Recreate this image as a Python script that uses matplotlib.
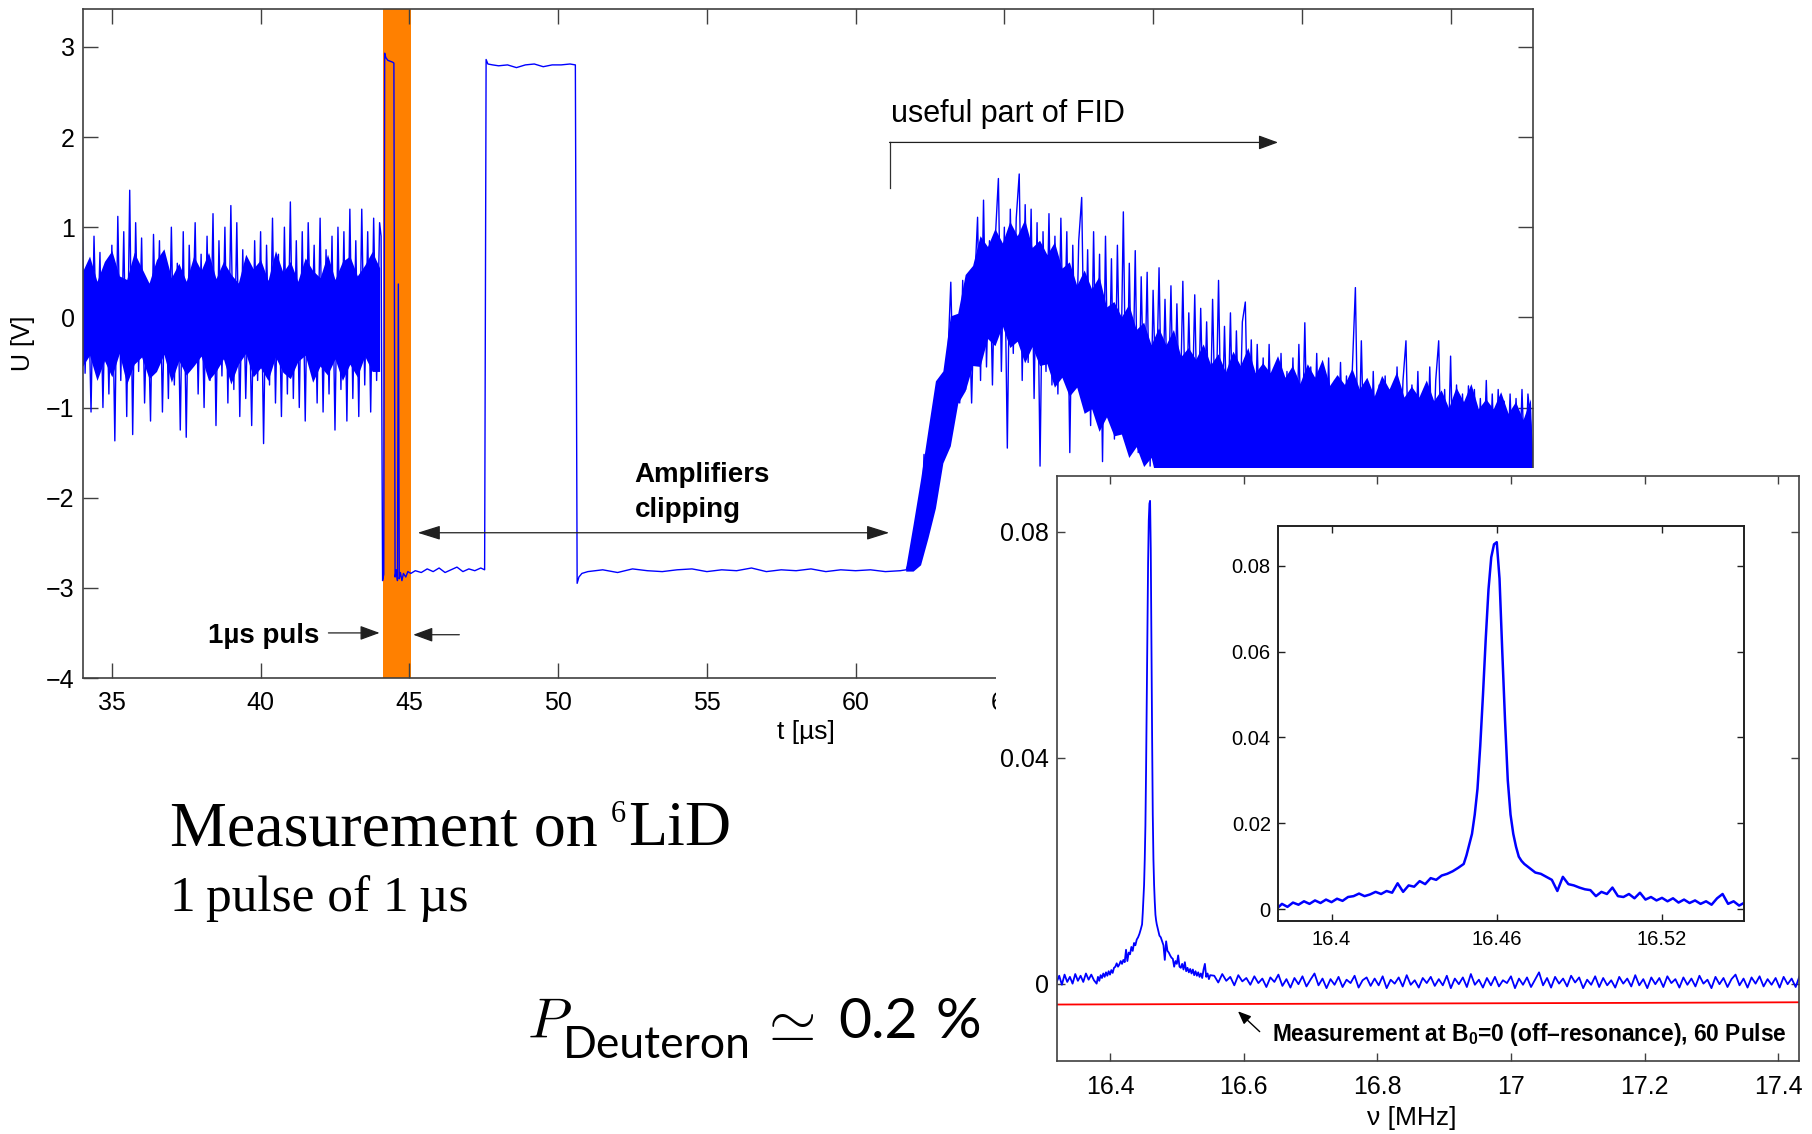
import numpy as np
import matplotlib
matplotlib.use('Agg')
import matplotlib.pyplot as plt

plt.rcParams['font.family'] = 'Liberation Sans'
plt.rcParams['mathtext.fontset'] = 'custom'
plt.rcParams['mathtext.rm'] = 'Liberation Sans'
plt.rcParams['mathtext.bf'] = 'Liberation Sans:bold'

# ---- oscilloscope trace U(t), t in microseconds ----
# noise before the pulse, one sample every 0.1 us from 34.0 us
base_t0, base_dt = 34.0, 0.1
base_u = [
    1.20, -0.62, 0.55, -1.05, 0.90, -0.50, 0.72, -1.00, 0.60, -0.85,
    0.80, -1.37, 1.12, -0.70, 0.95, -1.10, 1.41, -1.30, 1.05, -0.60,
    0.88, -0.95, 0.30, -1.15, 0.92, -0.55, 0.85, -1.05, 0.65, -0.90,
    1.00, -0.75, 0.60, -1.25, 0.95, -1.33, 0.80, -0.35, 1.05, -0.85,
    0.70, -1.00, 0.90, -0.70, 1.15, -1.20, 0.85, -0.65, 1.00, -0.95,
    1.24, -0.80, 1.05, -1.10, 0.75, -0.90, 0.45, -1.20, 0.85, -0.70,
    0.95, -1.40, 0.80, -0.75, 1.10, -0.95, 0.70, -1.10, 1.00, -0.85,
    1.28, -0.90, 0.85, -1.00, 0.95, -1.15, 1.05, -0.40, 0.80, -0.95,
    1.10, -1.05, 0.75, -0.85, 0.90, -1.25, 1.00, -0.80, 0.95, -1.15,
    1.20, -0.90, 0.85, -1.10, 1.20, -0.75, 0.95, -1.05, 1.10, -0.70,
    1.05]
# dense core of the noise band, every 0.25 us
base_env_t0, base_env_dt = 34.0, 0.25
base_env_hi = [0.50, 0.68, 0.40, 0.62, 0.74, 0.46, 0.42, 0.72, 0.55, 0.38,
               0.64, 0.76, 0.44, 0.60, 0.40, 0.68, 0.52, 0.72, 0.43, 0.62,
               0.48, 0.38, 0.70, 0.54, 0.64, 0.41, 0.74, 0.50, 0.62, 0.40,
               0.66, 0.52, 0.44, 0.70, 0.42, 0.62, 0.68, 0.46, 0.58, 0.73,
               0.55]
base_env_lo = [-0.55, -0.42, -0.70, -0.48, -0.66, -0.40, -0.74, -0.52, -0.44, -0.68,
               -0.60, -0.41, -0.72, -0.48, -0.64, -0.54, -0.43, -0.70, -0.60, -0.46,
               -0.74, -0.52, -0.40, -0.66, -0.56, -0.70, -0.44, -0.61, -0.68, -0.49,
               -0.42, -0.72, -0.54, -0.64, -0.46, -0.70, -0.52, -0.66, -0.43, -0.60,
               -0.60]

# pulse and clipped amplifier plateaus
clip_t = [44.05, 44.10, 44.14, 44.17, 44.21, 44.28, 44.36, 44.44, 44.48, 44.52,
          44.56, 44.60, 44.63, 44.66, 44.70, 44.75, 44.80, 44.88, 44.95, 45.05,
          45.20, 45.40, 45.60, 45.80, 46.00, 46.20, 46.40, 46.60, 46.80, 47.00,
          47.20, 47.40, 47.53, 47.58, 47.64, 47.80, 48.00, 48.30, 48.60, 48.90,
          49.20, 49.50, 49.80, 50.10, 50.40, 50.58, 50.64, 50.70, 50.80, 51.00,
          51.50, 52.00, 52.50, 53.00, 53.50, 54.00, 54.50, 55.00, 55.50, 56.00,
          56.50, 57.00, 57.50, 58.00, 58.50, 59.00, 59.50, 60.00, 60.50, 61.00,
          61.50]
clip_u = [0.90, -2.92, -2.85, 2.93, 2.88, 2.85, 2.84, 2.83, 2.82, -2.88,
          -2.80, -2.92, 0.37, -2.90, -2.83, -2.92, -2.84, -2.88, -2.82, -2.84,
          -2.81, -2.83, -2.79, -2.82, -2.78, -2.83, -2.80, -2.77, -2.82, -2.79,
          -2.81, -2.78, -2.80, 2.86, 2.81, 2.80, 2.79, 2.80, 2.77, 2.80,
          2.81, 2.78, 2.80, 2.80, 2.81, 2.80, -2.95, -2.88, -2.84, -2.82,
          -2.80, -2.83, -2.79, -2.81, -2.82, -2.80, -2.79, -2.82, -2.80, -2.81,
          -2.78, -2.82, -2.80, -2.81, -2.79, -2.82, -2.80, -2.81, -2.80, -2.82,
          -2.81]

# free induction decay, one sample every 0.1 us from 61.7 us
fid_t0, fid_dt = 61.7, 0.1
fid_u = [
    -2.80, -2.72, -2.50, -2.62, -2.15, -2.45, -1.52, -2.05, -1.55, -1.85,
    -1.20, -1.55, -0.65, -1.30, -0.45, 0.39, -1.05, -0.20, -0.95, 0.41,
    -0.80, 0.20, -0.95, 0.35, 1.11, -0.70, 1.30, -0.55, 0.85, -0.75,
    0.90, 1.54, -0.60, 1.00, -1.45, 1.20, -0.40, 1.10, 1.59, -0.70,
    1.25, -0.50, 1.20, -0.90, 1.05, -1.65, 0.95, -0.60, 1.15, -0.75,
    0.90, -0.85, 1.10, -0.55, 0.95, -1.50, 0.80, -0.70, 0.85, 1.33,
    -0.90, 0.75, -1.20, 0.95, -1.05, 0.70, -1.60, 0.90, -1.10, 0.65,
    -1.35, 0.80, -1.00, 1.17, -1.40, 0.60, -1.15, 0.74, -1.50, 0.45,
    -1.10, 0.50, -1.65, 0.30, -1.00, 0.55, -1.30, 0.20, -1.15, 0.35,
    -1.35, 0.15, -1.20, 0.40, -1.40, 0.05, -1.25, 0.25, -1.45, 0.10,
    -1.30, -0.05, -1.50, 0.20, -1.35, 0.41, -1.55, -0.10, -1.40, 0.05,
    -1.60, -0.15, -1.45, -0.05, 0.17, -1.55, -0.25, -1.60, -0.30, -1.50,
    -0.45, -1.65, -0.30, -1.55, -0.55, -1.70, -0.40, -1.60, -0.60, -1.65,
    -0.45, -1.75, -0.30, -1.60, -0.06, -1.70, -0.55, -1.65, -0.40, -1.80,
    -0.60, -1.70, -0.45, -1.75, -0.70, -1.65, -0.50, -1.80, -0.65, -1.70,
    -0.55, 0.33, -1.75, -0.26, -1.70, -0.70, -1.85, -0.60, -1.70, -0.75,
    -1.80, -0.65, -1.75, -0.80, -1.85, -0.55, -1.70, -0.70, -0.26, -1.80,
    -0.75, -1.75, -0.60, -1.85, -0.80, -1.80, -0.55, -1.75, -0.70, -0.26,
    -1.85, -0.80, -1.80, -0.43, -1.85, -0.75, -1.75, -0.85, -1.80, -0.76,
    -1.85, -0.80, -1.80, -0.90, -1.75, -0.70, -1.85, -0.85, -1.80, -0.80,
    -1.85, -0.93, -1.80, -0.85, -1.75, -0.90, -1.85, -0.80, -1.80, -0.85,
    -1.20, -1.85]
# upper edge of the dense FID core, every 0.25 us from 61.7 us
fid_hi_t0, fid_hi_dt = 61.7, 0.25
fid_hi = [-2.78, -2.30, -1.80, -1.25, -0.71, -0.60, 0.01, 0.04, 0.47, 0.57,
          0.90, 0.78, 0.98, 0.82, 1.06, 0.90, 1.08, 0.77, 0.85, 0.69,
          0.83, 0.54, 0.61, 0.35, 0.52, 0.31, 0.45, 0.11, 0.17, 0.00,
          0.14, -0.14, -0.06, -0.31, -0.12, -0.31, -0.14, -0.44, -0.34, -0.47,
          -0.30, -0.53, -0.41, -0.61, -0.38, -0.54, -0.34, -0.62, -0.51, -0.62,
          -0.43, -0.67, -0.54, -0.74, -0.52, -0.67, -0.47, -0.76, -0.64, -0.75,
          -0.57, -0.80, -0.67, -0.88, -0.65, -0.80, -0.61, -0.89, -0.77, -0.89,
          -0.70, -0.93, -0.81, -1.01, -0.78, -0.94, -0.74, -1.02, -0.91, -1.02,
          -0.83, -1.07, -0.94, -1.14, -0.91]
# lower edge of the dense FID core
fid_lo_t = [61.70, 61.95, 62.20, 62.45, 62.70, 62.95, 63.20, 63.45, 63.70, 63.95,
            64.20, 64.45, 64.70, 64.95, 65.20, 65.45, 65.70, 65.95, 66.20, 66.45,
            66.70, 66.95, 67.20, 67.45, 67.70, 67.95, 68.20, 68.45, 68.70, 68.95,
            69.20, 69.45, 69.70, 69.95, 70.20, 82.80]
fid_lo = [-2.82, -2.82, -2.75, -2.45, -2.12, -1.62, -1.43, -0.96, -0.82, -0.54,
          -0.55, -0.24, -0.32, -0.10, -0.34, -0.27, -0.51, -0.33, -0.54, -0.52,
          -0.78, -0.67, -0.88, -0.78, -1.07, -1.02, -1.27, -1.11, -1.32, -1.30,
          -1.56, -1.44, -1.66, -1.56, -1.90, -1.90]

pulse_window = (44.10, 45.06)

# ---- spectrum: (start MHz, step MHz, amplitudes) ----
spec_segments = [
    (16.320, 0.004, [0.0002, 0.0014, -0.0002, 0.0016, 0.0003, 0.0012, 0.0000, 0.0017,
                     0.0005, 0.0014, 0.0003, 0.0018, 0.0007, 0.0016, 0.0006]),
    (16.380, 0.002, [0.0000, 0.0012, 0.0005, 0.0015, 0.0010, 0.0018, 0.0012, 0.0020, 0.0014, 0.0022,
                     0.0016, 0.0024, 0.0019, 0.0028, 0.0030, 0.0036, 0.0030, 0.0034, 0.0040, 0.0035,
                     0.0042, 0.0038, 0.0060, 0.0040, 0.0055, 0.0052, 0.0065, 0.0058, 0.0072, 0.0068,
                     0.0078, 0.0082, 0.0088, 0.0096]),
    (16.448, 0.001, [0.0105, 0.0125, 0.0150, 0.0175, 0.0220, 0.0280, 0.0380, 0.0500, 0.0630, 0.0745,
                     0.0820, 0.0850, 0.0855, 0.0770, 0.0600, 0.0440, 0.0300, 0.0220, 0.0175, 0.0145,
                     0.0122, 0.0112]),
    (16.470, 0.002, [0.0105, 0.0095, 0.0085, 0.0082, 0.0075, 0.0068, 0.0042, 0.0075, 0.0058, 0.0055,
                     0.0050, 0.0046, 0.0044, 0.0030, 0.0040, 0.0035, 0.0050, 0.0030, 0.0028, 0.0035,
                     0.0025, 0.0038, 0.0022, 0.0028, 0.0020, 0.0026, 0.0018, 0.0025, 0.0015, 0.0022,
                     0.0014, 0.0020, 0.0012, 0.0018, 0.0010, 0.0025, 0.0035, 0.0012, 0.0018, 0.0008,
                     0.0015]),
    (16.556, 0.006, [0.0014, 0.0002, 0.0017, 0.0005, 0.0012, -0.0003, 0.0015, 0.0004, 0.0010, -0.0002,
                     0.0013, 0.0001, 0.0009, -0.0006, 0.0011, 0.0003, 0.0016, -0.0004, 0.0008, -0.0007,
                     0.0010, -0.0001, 0.0013, -0.0005, 0.0007, 0.0018, -0.0003, 0.0009, -0.0008, 0.0008,
                     -0.0002, 0.0012, -0.0006, 0.0007, 0.0001, 0.0014, -0.0007, 0.0006, 0.0011, -0.0004,
                     0.0009, -0.0003, 0.0013, -0.0008, 0.0007, 0.0000, 0.0011, -0.0005, 0.0015, -0.0002,
                     0.0006, -0.0007, 0.0010, 0.0001, 0.0012, -0.0004, 0.0008, -0.0003, 0.0014, -0.0008,
                     0.0009, -0.0001, 0.0011, -0.0006, 0.0017, -0.0002, 0.0007, -0.0007, 0.0010, -0.0003,
                     0.0012, -0.0005, 0.0006, 0.0001, 0.0013, -0.0008, 0.0009, -0.0002, 0.0011, -0.0006,
                     0.0007, 0.0020, -0.0003, 0.0010, -0.0007, 0.0012, 0.0000, 0.0009, -0.0005, 0.0014,
                     0.0002, 0.0011, -0.0008, 0.0007, -0.0002, 0.0013, -0.0006, 0.0010, -0.0003, 0.0006,
                     -0.0007, 0.0012, 0.0000, 0.0009, -0.0005, 0.0015, -0.0003, 0.0008, -0.0008, 0.0011,
                     -0.0001, 0.0010, -0.0006, 0.0013, 0.0001, 0.0008, -0.0007, 0.0011, -0.0002, 0.0009,
                     -0.0005, 0.0014, 0.0000, 0.0007, -0.0008, 0.0012, -0.0001, 0.0010, -0.0006, 0.0008,
                     0.0016, -0.0003, 0.0009, -0.0007, 0.0011, 0.0000, 0.0013, -0.0005, 0.0008, -0.0002,
                     0.0010, -0.0007, 0.0012, -0.0001, 0.0009, -0.0006, 0.0014, -0.0003, 0.0008, -0.0008]),
]

# off-resonance reference (B0 = 0)
offres_f = [16.32, 16.60, 16.90, 17.20, 17.43]
offres_a = [-0.0037, -0.0036, -0.0035, -0.0034, -0.0033]

# ---- assemble series ----
t = np.concatenate([base_t0 + base_dt * np.arange(len(base_u)),
                    np.array(clip_t),
                    fid_t0 + fid_dt * np.arange(len(fid_u))])
u = np.concatenate([base_u, clip_u, fid_u])
base_env_t = base_env_t0 + base_env_dt * np.arange(len(base_env_hi))
fid_hi_t = fid_hi_t0 + fid_hi_dt * np.arange(len(fid_hi))
fid_poly_t = np.concatenate([fid_hi_t, fid_lo_t[::-1]])
fid_poly_u = np.concatenate([fid_hi, fid_lo[::-1]])

freq = np.concatenate([f0 + df * np.arange(len(v)) for f0, df, v in spec_segments])
amp = np.concatenate([v for _, _, v in spec_segments])

W, H = 1812, 1134
fig = plt.figure(figsize=(W / 100, H / 100), dpi=100)


def box(x0, y0, x1, y1):
    # pixel box (top-left origin) -> figure fraction rect
    return [x0 / W, 1 - y1 / H, (x1 - x0) / W, (y1 - y0) / H]


def frame(a, color, lw):
    for s in a.spines.values():
        s.set_color(color)
        s.set_linewidth(lw)


blue = '#0000ff'

# ---- top panel: time trace ----
ax = fig.add_axes(box(83, 9, 1533, 678))
ax.axvspan(*pulse_window, color='#ff8000', lw=0, zorder=1)
ax.fill_between(base_env_t, base_env_lo, base_env_hi, color=blue, lw=0, zorder=2)
ax.fill(fid_poly_t, fid_poly_u, color=blue, lw=0, zorder=2)
ax.plot(t, u, color=blue, lw=1.0, zorder=2)
ax.set_xlim(34.03, 82.77)
ax.set_ylim(-4, 3.42)
ax.set_xticks(range(35, 81, 5))
ax.set_yticks(range(-4, 4))
ax.tick_params(direction='in', length=10.5, width=1.0, color='#404040',
               top=True, right=True, labelsize=18)
ax.tick_params(axis='x', pad=9)
ax.tick_params(axis='y', pad=6)
frame(ax, '#404040', 1.2)
ax.set_xlabel('t [µs]', fontsize=19)
ax.xaxis.set_label_coords(0.4986, -0.063)
ax.set_ylabel('U [V]', fontsize=18)
ax.yaxis.set_label_coords(-0.033, 0.5)

arrow = dict(arrowstyle='-|>,head_length=0.6,head_width=0.22', color='#202020',
             lw=0.9, mutation_scale=20, shrinkA=0, shrinkB=0)
ax.plot([61.14, 61.14], [1.43, 1.94], color='#303030', lw=0.9, zorder=3)
ax.annotate('', xy=(74.2, 1.94), xytext=(61.14, 1.94), arrowprops=arrow)
ax.text(61.19, 2.17, 'useful part of FID', fontsize=22, ha='left', va='baseline')

dbl = dict(arrow, arrowstyle='<|-|>,head_length=0.7,head_width=0.22')
ax.annotate('', xy=(61.13, -2.389), xytext=(45.28, -2.389), arrowprops=dbl)
ax.text(52.57, -1.826, 'Amplifiers', fontsize=20, fontweight='bold', va='baseline')
ax.text(52.57, -2.215, 'clipping', fontsize=20, fontweight='bold', va='baseline')

ax.annotate('', xy=(44.0, -3.5), xytext=(42.28, -3.5), arrowprops=arrow)
ax.annotate('', xy=(45.13, -3.52), xytext=(46.68, -3.52), arrowprops=arrow)
ax.text(41.96, -3.53, '1µs puls', fontsize=20, fontweight='bold', ha='right', va='center')

# white backing for the spectrum panel
cover = fig.add_axes(box(996, 468, 1812, 1134), zorder=5)
cover.set_facecolor('white')
cover.set_xticks([])
cover.set_yticks([])
for s in cover.spines.values():
    s.set_visible(False)

# ---- spectrum panel ----
ax2 = fig.add_axes(box(1057, 476, 1799, 1061), zorder=6)
ax2.plot(freq, amp, color=blue, lw=1.3)
ax2.plot(offres_f, offres_a, color='#ff0000', lw=1.3)
ax2.set_xlim(16.3207, 17.431)
ax2.set_ylim(-0.0137, 0.0899)
ax2.set_xticks([16.4, 16.6, 16.8, 17.0, 17.2, 17.4])
ax2.set_xticklabels(['16.4', '16.6', '16.8', '17', '17.2', '17.4'])
ax2.set_yticks([0, 0.04, 0.08])
ax2.set_yticklabels(['0', '0.04', '0.08'])
ax2.tick_params(direction='in', length=6, width=1.0, color='#404040',
                top=True, right=True, labelsize=18)
ax2.tick_params(axis='x', pad=10)
ax2.tick_params(axis='y', pad=6)
frame(ax2, '#404040', 1.2)
ax2.set_xlabel('ν [MHz]', fontsize=19)
ax2.xaxis.set_label_coords(0.478, -0.077)

small = dict(arrowstyle='-|>,head_length=0.6,head_width=0.25', color='black',
             lw=1.0, mutation_scale=13, shrinkA=0, shrinkB=0)
ax2.annotate('', xy=(16.5915, -0.0049), xytext=(16.624, -0.0085), arrowprops=small)
ax2.text(16.643, -0.0102, r'Measurement at B$_\mathbf{0}$=0 (off–resonance), 60 Pulse',
         fontsize=16.4, fontweight='bold', va='baseline')

# zoomed view of the resonance
ins = ax2.inset_axes([0.2976, 0.240, 0.628, 0.674])
ins.plot(freq, amp, color=blue, lw=1.8)
ins.set_xlim(16.3805, 16.5497)
ins.set_ylim(-0.0027, 0.0892)
ins.set_xticks([16.4, 16.46, 16.52])
ins.set_xticklabels(['16.4', '16.46', '16.52'])
ins.set_yticks([0, 0.02, 0.04, 0.06, 0.08])
ins.set_yticklabels(['0', '0.02', '0.04', '0.06', '0.08'])
ins.tick_params(direction='in', length=5, width=1.0, color='#202020',
                top=True, right=True, labelsize=14.5)
ins.tick_params(axis='x', pad=7)
ins.tick_params(axis='y', pad=5)
frame(ins, '#202020', 1.4)

# ---- slide text ----
renderer = fig.canvas.get_renderer()
serif = 'Liberation Serif'
head = fig.text(170 / W, 1 - 845 / H, 'Measurement on', fontsize=46, family=serif,
                va='baseline')
x_end = head.get_window_extent(renderer).x1
iso = fig.text((x_end + 13) / W, 1 - 822 / H, '6', fontsize=22, family=serif,
               va='baseline')
x_end = iso.get_window_extent(renderer).x1
fig.text((x_end + 2) / W, 1 - 845 / H, 'LiD', fontsize=46, family=serif, va='baseline')
fig.text(170 / W, 1 - 911 / H, '1\u2009pulse of 1\u2009µs', fontsize=37,
         family=serif, va='baseline')

# P_Deuteron ~ 0.2 %
fig.text(527 / W, 1 - 1038 / H, '$P$', fontsize=41, math_fontfamily='cm', va='baseline')
fig.text(563 / W, 1 - 1058 / H, 'Deuteron', fontsize=32, family='Lato', va='baseline')
fig.text(758 / W, 1 - 1040 / H, r'$\simeq$', fontsize=44, math_fontfamily='cm',
         va='baseline')
fig.text(838 / W, 1 - 1038 / H, '0.2', fontsize=41, family='Lato', va='baseline')
fig.text(936 / W, 1 - 1038 / H, '%', fontsize=41, family='Lato', va='baseline')

fig.savefig('out.png', dpi=100, facecolor='white')
